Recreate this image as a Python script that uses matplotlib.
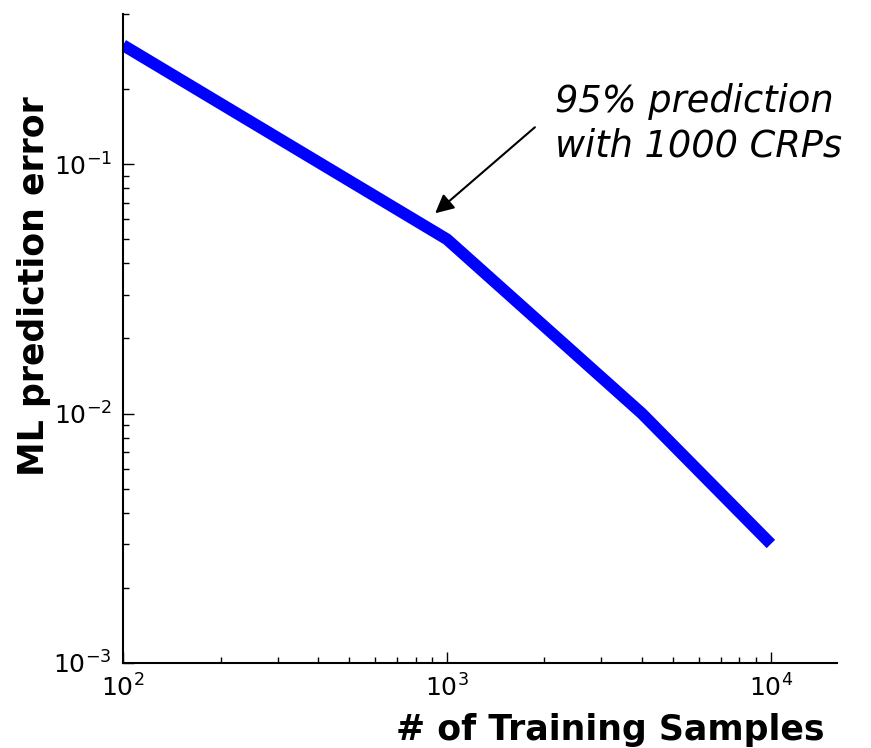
import matplotlib
matplotlib.use('Agg')
import matplotlib.pyplot as plt

# training set size vs. ML prediction error
samples = [100, 1000, 4000, 10000]
error = [0.3, 0.05, 0.01, 0.003]

note = '95% prediction\nwith 1000 CRPs'

fig = plt.figure(figsize=(8.71, 7.48), dpi=100)
ax = fig.add_axes([123/871, 85/748, 714/871, 649/748])

ax.plot(samples, error, color='blue', lw=8.5, solid_capstyle='butt')
ax.set_xscale('log')
ax.set_yscale('log')
ax.set_xlim(100, 16000)
ax.set_ylim(1e-3, 0.4)

ax.spines['top'].set_visible(False)
ax.spines['right'].set_visible(False)
ax.spines['left'].set_linewidth(1.5)
ax.spines['bottom'].set_linewidth(1.5)
ax.tick_params(which='both', direction='in', top=False, right=False, labelsize=18, pad=8)
ax.tick_params(which='major', length=8, width=1)
ax.tick_params(which='minor', length=4, width=1)

ax.set_xlabel('# of Training Samples', fontsize=25, fontweight='bold')
ax.xaxis.set_label_coords(0.682, -0.104)
ax.xaxis.label.set_va('center')
ax.set_ylabel('ML prediction error', fontsize=25, fontweight='bold')
ax.yaxis.set_label_coords(-0.124, 0.581)
ax.yaxis.label.set_va('center')

ax.annotate('', xy=(906, 0.0625), xytext=(1897, 0.143),
            arrowprops=dict(arrowstyle='-|>', color='black', lw=1.5, mutation_scale=28))
ax.text(2154, 0.145, note, fontsize=26.5, style='italic', ha='left', va='center',
        linespacing=1.25)

plt.savefig('out.png')
